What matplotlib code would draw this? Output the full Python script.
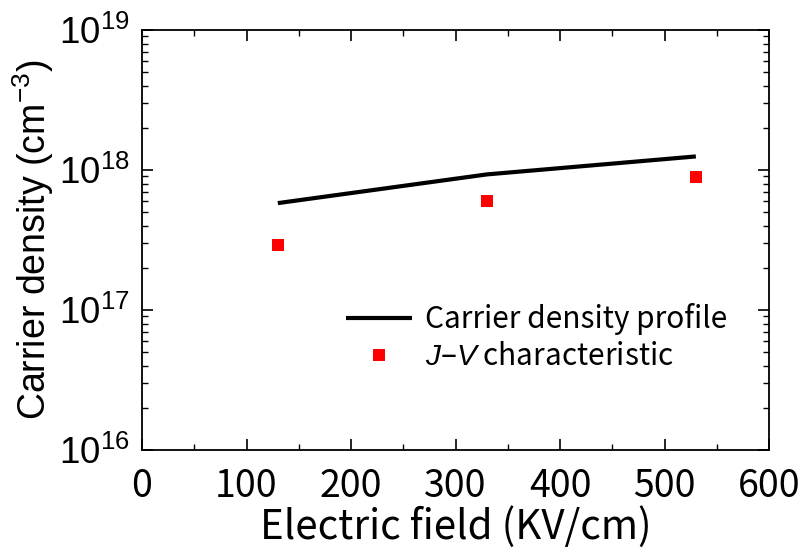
import matplotlib
matplotlib.use("Agg")
import matplotlib.pyplot as plt
from matplotlib.ticker import LogLocator, NullFormatter, MultipleLocator

plt.rcParams['font.family'] = ['Liberation Sans', 'DejaVu Sans']
plt.rcParams['mathtext.fontset'] = 'custom'
plt.rcParams['mathtext.rm'] = 'Liberation Sans'
plt.rcParams['mathtext.it'] = 'Liberation Sans:italic'

# Data
profile_field = [130, 330, 530]
profile_density = [5.8e17, 9.3e17, 1.25e18]
jv_field = [130, 330, 530]
jv_density = [2.9e17, 6.0e17, 8.9e17]

x_ticks = [0, 100, 200, 300, 400, 500, 600]
y_ticks = [1e16, 1e17, 1e18, 1e19]
y_tick_labels = [r'$\mathregular{10^{16}}$', r'$\mathregular{10^{17}}$',
                 r'$\mathregular{10^{18}}$', r'$\mathregular{10^{19}}$']

JP = ['Noto Sans CJK JP', 'DejaVu Sans']

fig = plt.figure(figsize=(8.03, 5.5), dpi=100)
ax = fig.add_axes([142/803, 1-450/550, (769-142)/803, (450-30)/550])

ax.plot(profile_field, profile_density, color='black', lw=3.0, solid_capstyle='butt',
        label='Carrier density profile')
ax.plot(jv_field, jv_density, 's', color='#ff0000', markersize=8.5, markeredgewidth=0,
        label=r'$\mathit{J}$–$\mathit{V}$ characteristic', linestyle='none')

ax.set_yscale('log')
ax.set_xlim(0, 600)
ax.set_ylim(1e16, 1e19)

ax.set_xticks(x_ticks)
ax.set_xticklabels([str(v) for v in x_ticks], fontsize=27, family=JP)
ax.xaxis.set_minor_locator(MultipleLocator(50))
ax.set_yticks(y_ticks)
ax.set_yticklabels(y_tick_labels, fontsize=26.5)
ax.yaxis.set_minor_locator(LogLocator(base=10, subs=range(2, 10)))
ax.yaxis.set_minor_formatter(NullFormatter())

ax.tick_params(which='major', direction='in', length=8, width=1.2, top=True, right=True)
ax.tick_params(axis='x', which='major', pad=12)
ax.tick_params(axis='y', which='major', pad=9)
ax.tick_params(which='minor', direction='in', length=4, width=1.0, top=True, right=True)
for s in ax.spines.values():
    s.set_linewidth(1.3)

ax.set_xlabel('Electric field (KV/cm)', fontsize=29, labelpad=0, family=JP)
ax.set_ylabel(r'Carrier density (cm$^{\mathregular{-3}}$)', fontsize=27, labelpad=2)

leg = ax.legend(loc='upper left', bbox_to_anchor=(346/803, 1-303/550),
                bbox_transform=fig.transFigure, frameon=False, fontsize=21.5,
                handlelength=2.2, handletextpad=0.45, labelspacing=0.2, borderpad=0,
                borderaxespad=0)
for t in leg.get_texts():
    t.set_family(JP)

fig.savefig('out.png', dpi=100)
